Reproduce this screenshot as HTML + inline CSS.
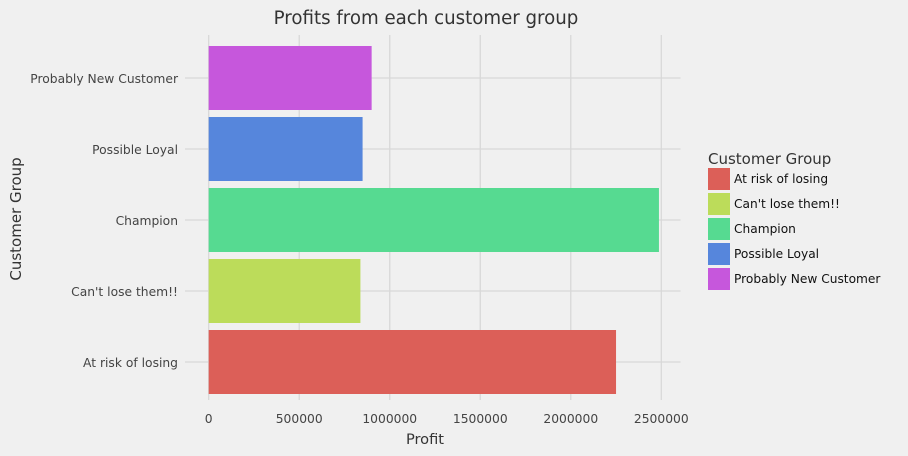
<!DOCTYPE html>
<html><head><meta charset="utf-8"><style>
body{margin:0;background:#f0f0f0;}
svg{display:block;font-family:"DejaVu Sans","Liberation Sans",sans-serif;}
</style></head><body>
<svg id="chart" width="908" height="456">
<rect width="908" height="456" fill="#f0f0f0"/>
<text x="426" y="24" text-anchor="middle" font-size="18.2" fill="#333">Profits from each customer group</text>
<g id="grid"></g><g id="bars"></g><g id="ticks"></g>
<text x="425" y="444" text-anchor="middle" font-size="14.6" fill="#333">Profit</text>
<text transform="translate(21,219) rotate(-90)" text-anchor="middle" font-size="15" fill="#333">Customer Group</text>
<g id="legend"><text x="708" y="164" font-size="15" fill="#333">Customer Group</text></g>
</svg>
<script>
const categories=["At risk of losing","Can't lose them!!","Champion","Possible Loyal","Probably New Customer"];
const profits=[2250000,838000,2487000,850000,900000];
const colors=["#dc5f58","#bcdc5a","#56da91","#5686dc","#c657dc"];
const xTicks=[0,500000,1000000,1500000,2000000,2500000];
const NS="http://www.w3.org/2000/svg";
function X(v){return 208.7+v*(452.6/2500000);}
function Y(i){return 362-i*71;}
function mk(tag,attrs,parent,txt){const e=document.createElementNS(NS,tag);for(const k in attrs)e.setAttribute(k,attrs[k]);if(txt!==undefined)e.textContent=txt;document.getElementById(parent).appendChild(e);return e;}
xTicks.forEach(t=>{
 const l=mk('line',{x1:X(t),x2:X(t),y1:35,y2:400,stroke:'#d8d8d8','stroke-width':1.3},'grid');
 
 
 const tx=mk('text',{x:X(t),y:423,'text-anchor':'middle','font-size':12.3,fill:'#444'},'ticks',String(t));
 
 
});
categories.forEach((c,i)=>{
 const l=mk('line',{x1:185,x2:680.5,y1:Y(i),y2:Y(i),stroke:'#d8d8d8','stroke-width':1.3},'grid');
 
 
 const b=mk('rect',{x:X(0),y:Y(i)-32,width:X(profits[i])-X(0),height:64,fill:colors[i]},'bars');
 
 
 const tx=mk('text',{x:178,y:Y(i)+5,'text-anchor':'end','font-size':12.3,fill:'#444'},'ticks',c);
 
 
 const ly=168+i*25;
 const sw=mk('rect',{x:708,y:ly,width:22,height:22,fill:colors[i]},'legend');
 
 
 const lt=mk('text',{x:734,y:ly+15,'font-size':12.2,fill:'#111'},'legend',c);
 
 
});
</script>
</body></html>
